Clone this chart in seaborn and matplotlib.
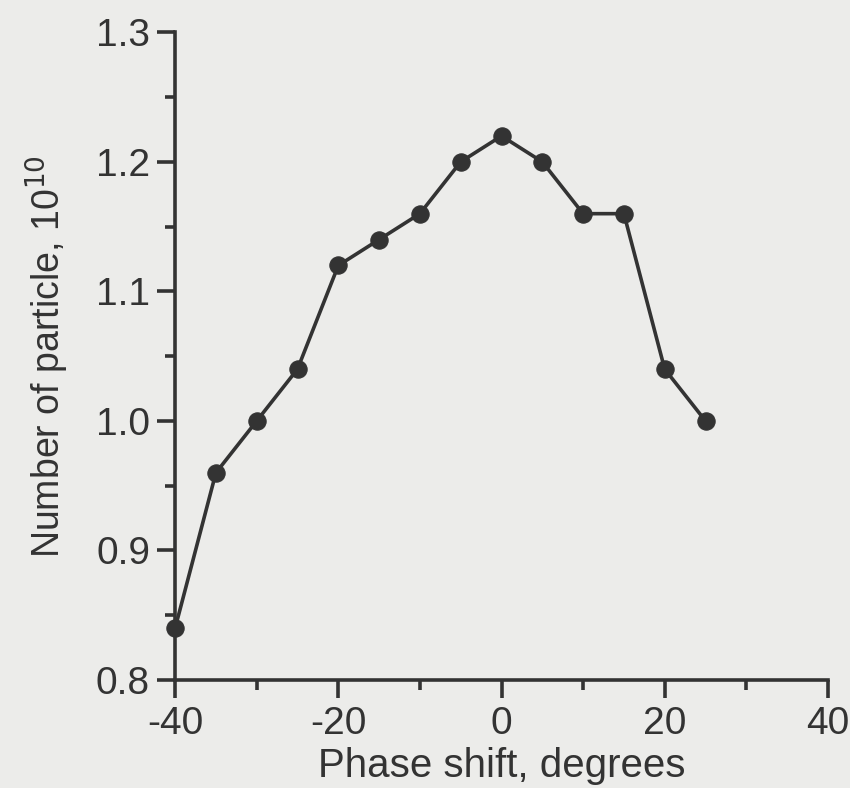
import matplotlib
matplotlib.use("Agg")
import matplotlib.pyplot as plt
import seaborn as sns
import pandas as pd
from matplotlib.ticker import MultipleLocator

# valeurs
phase_shift = [-40, -35, -30, -25, -20, -15, -10, -5, 0, 5, 10, 15, 20, 25]
n_particles = [0.84, 0.96, 1.00, 1.04, 1.12, 1.14, 1.16, 1.20, 1.22, 1.20, 1.16, 1.16, 1.04, 1.00]

x_ticks = [-40, -20, 0, 20, 40]
y_ticks = [0.8, 0.9, 1.0, 1.1, 1.2, 1.3]

df = pd.DataFrame({"phase": phase_shift, "n": n_particles})

sns.set_style("ticks")
plt.rcParams["font.family"] = ["Liberation Sans", "DejaVu Sans"]

ink = "#333333"
paper = "#ececea"

fig = plt.figure(figsize=(8.5, 7.88), dpi=100, facecolor=paper)
ax = fig.add_axes([0.206, 0.137, 0.768, 0.822])
ax.set_facecolor(paper)

sns.lineplot(data=df, x="phase", y="n", ax=ax, color=ink, linewidth=2.6,
             marker="o", markersize=12.5, markeredgecolor=ink, markerfacecolor=ink)
# pour ne pas couper le premier point sur l'axe
for line in ax.lines:
    line.set_clip_on(False)

ax.set_xlim(-40, 40)
ax.set_ylim(0.8, 1.3)
ax.set_xticks(x_ticks)
ax.set_xticklabels([str(t) for t in x_ticks])
ax.set_yticks(y_ticks)
ax.set_yticklabels([f"{t:.1f}" for t in y_ticks])
ax.xaxis.set_minor_locator(MultipleLocator(10))
ax.yaxis.set_minor_locator(MultipleLocator(0.05))

for side in ["top", "right"]:
    ax.spines[side].set_visible(False)
for side in ["left", "bottom"]:
    ax.spines[side].set_linewidth(2.6)
    ax.spines[side].set_color(ink)

ax.tick_params(which="major", direction="out", length=13, width=2.6, color=ink,
               labelsize=28, labelcolor=ink, pad=5)
ax.tick_params(axis="x", which="major", pad=6)
ax.tick_params(which="minor", direction="out", length=7, width=2.6, color=ink)

ax.set_xlabel("Phase shift, degrees", fontsize=29, color=ink, labelpad=3)
ax.set_ylabel("Number of particle, 10$^{10}$", fontsize=27, color=ink, labelpad=18)

fig.savefig("out.png", dpi=100, facecolor=paper)
